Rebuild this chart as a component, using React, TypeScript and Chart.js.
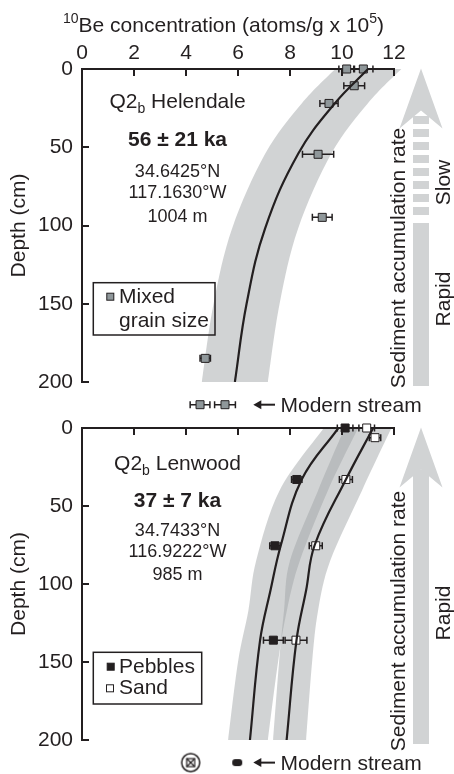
import React, { useEffect, useRef } from 'react';
import { Chart, registerables } from 'chart.js';

Chart.register(...registerables);

const FONT = '"Liberation Sans", Arial, Helvetica, sans-serif';
const INK = '#231f20';
const BAND = 'rgba(159,163,165,0.48)';
const ARROW_GRAY = '#d1d3d4';
const MIXED_FILL = '#8f979a';

// ---------------- data ----------------
const concTicks = [0, 2, 4, 6, 8, 10, 12];
const depthTicks = [0, 50, 100, 150, 200];
const streamDepth = 214.5;

// Q2b Helendale (top)
const helDepth = [0, 0, 10.7, 22, 54.5, 94.8, 184.9];
const helConc = [10.18, 10.82, 10.47, 9.5, 9.08, 9.24, 4.74];
const helErr = [0.3, 0.37, 0.4, 0.35, 0.6, 0.38, 0.2];
const helStreamConc = [4.54, 5.5];
const helStreamErr = [0.38, 0.4];
const helModelDepth = [0, 22, 54, 102, 150, 200];
const helModelConc = [11.0, 9.72, 8.32, 7.04, 6.33, 5.88];
const helBandDepth = [0, 22, 54, 102, 150, 200];
const helBandLow = [9.74, 8.45, 7.05, 5.77, 5.06, 4.61];
const helBandHigh = [12.28, 10.99, 9.59, 8.31, 7.6, 7.15];

// Q2b Lenwood (bottom)
const pebDepth = [0, 33, 75.5, 136];
const pebConc = [10.12, 8.26, 7.42, 7.36];
const pebErr = [0.3, 0.2, 0.2, 0.38];
const sandDepth = [0, 6.2, 33, 75.5, 136];
const sandConc = [10.95, 11.27, 10.15, 8.99, 8.23];
const sandErr = [0.3, 0.22, 0.25, 0.25, 0.42];
const pebStreamConc = [5.97];
const sandStreamConc = [4.18];
const lenModelDepth = [0, 33, 75, 104, 136, 200];
const pebModelConc = [9.86, 8.45, 7.65, 7.25, 6.85, 6.46];
const sandModelConc = [11.2, 10.15, 8.95, 8.62, 8.25, 7.87];
const lenBandDepth = [0, 40, 85, 117, 150, 200];
const pebBandLow = [9.3, 7.6, 6.7, 6.4, 6.0, 5.62];
const pebBandHigh = [10.62, 9.46, 8.38, 7.88, 7.54, 7.15];
const sandBandLow = [10.1, 9.08, 8.0, 7.77, 7.58, 7.35];
const sandBandHigh = [11.9, 10.77, 9.55, 9.08, 8.85, 8.62];

// ---------------- helpers ----------------
type Pt = [number, number];
const BIG_AREA = { left: -10000, top: -10000, right: 10000, bottom: 10000 };

function smoothTo(ctx: CanvasRenderingContext2D, pts: Pt[], move: boolean) {
  if (move) ctx.moveTo(pts[0][0], pts[0][1]);
  else ctx.lineTo(pts[0][0], pts[0][1]);
  for (let i = 0; i < pts.length - 1; i++) {
    const p0 = pts[i - 1] || pts[i];
    const p1 = pts[i];
    const p2 = pts[i + 1];
    const p3 = pts[i + 2] || p2;
    ctx.bezierCurveTo(
      p1[0] + (p2[0] - p0[0]) / 6, p1[1] + (p2[1] - p0[1]) / 6,
      p2[0] - (p3[0] - p1[0]) / 6, p2[1] - (p3[1] - p1[1]) / 6,
      p2[0], p2[1]
    );
  }
}

function drawBand(chart: any, depth: number[], low: number[], high: number[]) {
  const { ctx, scales } = chart;
  const x = scales.x, y = scales.y;
  const left: Pt[] = depth.map((d, i) => [x.getPixelForValue(low[i]), y.getPixelForValue(d)]);
  const right: Pt[] = depth.map((d, i) => [x.getPixelForValue(high[i]), y.getPixelForValue(d)] as Pt).reverse();
  ctx.save();
  ctx.fillStyle = BAND;
  ctx.beginPath();
  smoothTo(ctx, left, true);
  smoothTo(ctx, right, false);
  ctx.closePath();
  ctx.fill();
  ctx.restore();
}

function drawErrBars(chart: any, conc: number[], depth: number[], err: number[]) {
  const { ctx, scales } = chart;
  const x = scales.x, y = scales.y;
  ctx.save();
  ctx.strokeStyle = INK;
  ctx.lineWidth = 1.5;
  ctx.beginPath();
  conc.forEach((v, i) => {
    const py = y.getPixelForValue(depth[i]);
    const x1 = x.getPixelForValue(v - err[i]);
    const x2 = x.getPixelForValue(v + err[i]);
    ctx.moveTo(x1, py); ctx.lineTo(x2, py);
    ctx.moveTo(x1, py - 3.5); ctx.lineTo(x1, py + 3.5);
    ctx.moveTo(x2, py - 3.5); ctx.lineTo(x2, py + 3.5);
  });
  ctx.stroke();
  ctx.restore();
}

// draw points of datasets that lie below the plotted depth range (modern stream)
function drawOutsidePoints(chart: any, indices: number[]) {
  indices.forEach((i) => {
    const meta = chart.getDatasetMeta(i);
    meta.data.forEach((el: any) => el.draw(chart.ctx, BIG_AREA));
  });
}

type Part = { t: string; size: number; dy?: number; bold?: boolean };

function drawRich(ctx: CanvasRenderingContext2D, parts: Part[], x: number, y: number, align: 'left' | 'center') {
  ctx.save();
  ctx.fillStyle = INK;
  ctx.textBaseline = 'alphabetic';
  ctx.textAlign = 'left';
  const fontOf = (p: Part) => `${p.bold ? 'bold ' : ''}${p.size}px ${FONT}`;
  const widths = parts.map((p) => { ctx.font = fontOf(p); return ctx.measureText(p.t).width; });
  const total = widths.reduce((a, b) => a + b, 0);
  let cx = align === 'center' ? x - total / 2 : x;
  parts.forEach((p, i) => {
    ctx.font = fontOf(p);
    ctx.fillText(p.t, cx, y + (p.dy || 0));
    cx += widths[i];
  });
  ctx.restore();
}

function drawVText(ctx: CanvasRenderingContext2D, text: string, x: number, y: number, size: number) {
  ctx.save();
  ctx.translate(x, y);
  ctx.rotate(-Math.PI / 2);
  ctx.font = `${size}px ${FONT}`;
  ctx.textAlign = 'center';
  ctx.textBaseline = 'alphabetic';
  ctx.fillStyle = INK;
  ctx.fillText(text, 0, 0);
  ctx.restore();
}

function drawBigArrow(ctx: CanvasRenderingContext2D, a: any, dashed: boolean) {
  const cx = a.right + 27;
  const tip = a.top - 0.5;
  ctx.save();
  ctx.fillStyle = ARROW_GRAY;
  ctx.beginPath();
  ctx.moveTo(cx, tip);
  ctx.lineTo(cx + 21.5, tip + 60);
  ctx.lineTo(cx, tip + 42);
  ctx.lineTo(cx - 21.5, tip + 60);
  ctx.closePath();
  ctx.fill();
  const bottom = a.bottom + 4;
  if (dashed) {
    let yy = a.top + 47;
    while (yy < a.top + 150) {
      ctx.fillRect(cx - 8, yy, 16, 8);
      yy += 13;
    }
    ctx.fillRect(cx - 8, a.top + 154, 16, bottom - (a.top + 154));
  } else {
    ctx.fillRect(cx - 8, tip + 42, 16, bottom - (tip + 42));
  }
  ctx.restore();
}

function drawStreamLabel(ctx: CanvasRenderingContext2D, a: any, py: number) {
  const x0 = a.left + 171.3;
  const x1 = a.left + 193;
  ctx.save();
  ctx.strokeStyle = INK;
  ctx.fillStyle = INK;
  ctx.lineWidth = 2;
  ctx.beginPath();
  ctx.moveTo(x1, py);
  ctx.lineTo(x0 + 5, py);
  ctx.stroke();
  ctx.beginPath();
  ctx.moveTo(x0, py);
  ctx.lineTo(x0 + 8, py - 4.5);
  ctx.lineTo(x0 + 8, py + 4.5);
  ctx.closePath();
  ctx.fill();
  ctx.font = `21px ${FONT}`;
  ctx.textAlign = 'left';
  ctx.textBaseline = 'alphabetic';
  ctx.fillText('Modern stream', a.left + 198.5, py + 7.5);
  ctx.restore();
}

function drawSquare(ctx: CanvasRenderingContext2D, cx: number, cy: number, s: number, fill: string) {
  ctx.save();
  ctx.fillStyle = fill;
  ctx.strokeStyle = INK;
  ctx.lineWidth = 1;
  ctx.fillRect(cx - s / 2, cy - s / 2, s, s);
  ctx.strokeRect(cx - s / 2, cy - s / 2, s, s);
  ctx.restore();
}

function drawLegendBox(ctx: CanvasRenderingContext2D, x: number, y: number, w: number, h: number) {
  ctx.save();
  ctx.strokeStyle = INK;
  ctx.lineWidth = 1.5;
  ctx.strokeRect(x, y, w, h);
  ctx.restore();
}

function plainText(ctx: CanvasRenderingContext2D, t: string, x: number, y: number, size: number) {
  ctx.save();
  ctx.fillStyle = INK;
  ctx.font = `${size}px ${FONT}`;
  ctx.textAlign = 'left';
  ctx.textBaseline = 'alphabetic';
  ctx.fillText(t, x, y);
  ctx.restore();
}

function axisOptions(xHeight: number, showXLabels: boolean) {
  const tickFont = { family: FONT, size: 21 };
  const grid = { drawOnChartArea: false, drawTicks: true, tickLength: -7, color: INK, lineWidth: 2 };
  const border = { display: true, color: INK, width: 2 };
  return {
    x: {
      type: 'linear',
      position: 'top',
      min: 0,
      max: 12,
      afterBuildTicks: (s: any) => { s.ticks = concTicks.map((v) => ({ value: v })); },
      ticks: { display: showXLabels, padding: 10, font: tickFont, color: INK, maxRotation: 0, autoSkip: false },
      grid,
      border,
      afterFit: (s: any) => { s.height = xHeight; },
    },
    y: {
      type: 'linear',
      position: 'left',
      min: 0,
      max: 200,
      reverse: true,
      afterBuildTicks: (s: any) => { s.ticks = depthTicks.map((v) => ({ value: v })); },
      ticks: { padding: 16, font: tickFont, color: INK, autoSkip: false },
      grid,
      border,
      title: { display: true, text: 'Depth (cm)', font: { family: FONT, size: 21 }, color: INK, padding: { top: 7, bottom: 0 } },
      afterFit: (s: any) => { s.width = 82; },
    },
  };
}

const toXY = (xs: number[], ys: number[]) => xs.map((v, i) => ({ x: v, y: ys[i] }));

const lineDs = (data: any[]) => ({
  type: 'scatter',
  data,
  showLine: true,
  borderColor: INK,
  borderWidth: 2.2,
  pointRadius: 0,
  tension: 0.4,
  fill: false,
});

const pointDs = (data: any[], fill: string) => ({
  type: 'scatter',
  data,
  showLine: false,
  pointStyle: 'rect',
  pointRadius: 5.66,
  backgroundColor: fill,
  borderColor: INK,
  borderWidth: 1,
  clip: false,
});

function makePill() {
  const c = document.createElement('canvas');
  c.width = 12; c.height = 9;
  const g = c.getContext('2d')!;
  g.fillStyle = INK;
  g.beginPath();
  (g as any).roundRect(1, 1, 10, 7, 3);
  g.fill();
  return c;
}

function makeCircled() {
  const c = document.createElement('canvas');
  c.width = 22; c.height = 22;
  const g = c.getContext('2d')!;
  g.strokeStyle = INK;
  g.lineWidth = 1.5;
  g.beginPath();
  g.arc(11, 11, 9, 0, Math.PI * 2);
  g.stroke();
  g.lineWidth = 1.2;
  g.strokeRect(7, 7, 8, 8);
  g.beginPath();
  g.moveTo(7, 7); g.lineTo(15, 15);
  g.moveTo(15, 7); g.lineTo(7, 15);
  g.stroke();
  return c;
}

const topPlugin = {
  id: 'helendalePanel',
  beforeDraw(chart: any) {
    drawBand(chart, helBandDepth, helBandLow, helBandHigh);
  },
  beforeDatasetsDraw(chart: any) {
    drawErrBars(chart, helConc, helDepth, helErr);
    drawErrBars(chart, helStreamConc, helStreamConc.map(() => streamDepth), helStreamErr);
  },
  afterDatasetsDraw(chart: any) {
    drawOutsidePoints(chart, [2]);
  },
  afterDraw(chart: any) {
    const { ctx, chartArea: a, scales } = chart;
    drawRich(ctx, [
      { t: '10', size: 14, dy: -8.2 },
      { t: 'Be concentration (atoms/g x 10', size: 21 },
      { t: '5', size: 14, dy: -8.2 },
      { t: ')', size: 21 },
    ], a.left - 19, a.top - 37.5, 'left');
    const cx = a.left + 95.5;
    drawRich(ctx, [{ t: 'Q2', size: 21 }, { t: 'b', size: 14, dy: 4.7 }, { t: ' Helendale', size: 21 }], cx, a.top + 39.3, 'center');
    drawRich(ctx, [{ t: '56 ± 21 ka', size: 21, bold: true }], cx, a.top + 76.7, 'center');
    drawRich(ctx, [{ t: '34.6425°N', size: 18 }], cx, a.top + 107.5, 'center');
    drawRich(ctx, [{ t: '117.1630°W', size: 18 }], cx, a.top + 129.3, 'center');
    drawRich(ctx, [{ t: '1004 m', size: 18 }], cx, a.top + 152.7, 'center');

    const bx = a.left + 11.3, by = a.top + 213.7;
    drawLegendBox(ctx, bx, by, 121.7, 52.3);
    drawSquare(ctx, bx + 17, by + 14, 7, MIXED_FILL);
    plainText(ctx, 'Mixed', bx + 25.7, by + 20.6, 21);
    plainText(ctx, 'grain size', bx + 25.7, by + 44, 21);

    drawBigArrow(ctx, a, true);
    drawVText(ctx, 'Sediment accumulation rate', a.right + 11, a.top + 189, 21);
    drawVText(ctx, 'Slow', a.right + 56, a.top + 113.5, 21);
    drawVText(ctx, 'Rapid', a.right + 56, a.top + 230, 21);

    drawStreamLabel(ctx, a, scales.y.getPixelForValue(streamDepth));
  },
};

const bottomPlugin = {
  id: 'lenwoodPanel',
  beforeDraw(chart: any) {
    drawBand(chart, lenBandDepth, pebBandLow, pebBandHigh);
    drawBand(chart, lenBandDepth, sandBandLow, sandBandHigh);
  },
  beforeDatasetsDraw(chart: any) {
    drawErrBars(chart, pebConc, pebDepth, pebErr);
    drawErrBars(chart, sandConc, sandDepth, sandErr);
  },
  afterDatasetsDraw(chart: any) {
    drawOutsidePoints(chart, [4, 5]);
  },
  afterDraw(chart: any) {
    const { ctx, chartArea: a, scales } = chart;
    const cx = a.left + 95.5;
    drawRich(ctx, [{ t: 'Q2', size: 21 }, { t: 'b', size: 14, dy: 4.7 }, { t: ' Lenwood', size: 21 }], cx, a.top + 42, 'center');
    drawRich(ctx, [{ t: '37 ± 7 ka', size: 21, bold: true }], cx, a.top + 78.7, 'center');
    drawRich(ctx, [{ t: '34.7433°N', size: 18 }], cx, a.top + 107.7, 'center');
    drawRich(ctx, [{ t: '116.9222°W', size: 18 }], cx, a.top + 128.7, 'center');
    drawRich(ctx, [{ t: '985 m', size: 18 }], cx, a.top + 152, 'center');

    const bx = a.left + 11.3, by = a.top + 224.3;
    drawLegendBox(ctx, bx, by, 108.4, 51.7);
    drawSquare(ctx, bx + 17.4, by + 14.4, 7, INK);
    plainText(ctx, 'Pebbles', bx + 25.7, by + 21, 21);
    drawSquare(ctx, bx + 16.7, by + 36, 7, '#ffffff');
    plainText(ctx, 'Sand', bx + 25.7, by + 41.7, 21);

    drawBigArrow(ctx, a, false);
    drawVText(ctx, 'Sediment accumulation rate', a.right + 11, a.top + 193, 21);
    drawVText(ctx, 'Rapid', a.right + 56, a.top + 185, 21);

    drawStreamLabel(ctx, a, scales.y.getPixelForValue(streamDepth));
  },
};

export default function App() {
  const topRef = useRef<HTMLCanvasElement | null>(null);
  const botRef = useRef<HTMLCanvasElement | null>(null);

  useEffect(() => {
    Chart.defaults.font.family = FONT;
    Chart.defaults.color = INK;
    const common = {
      responsive: false,
      animation: false,
      devicePixelRatio: 1,
      events: [],
      plugins: { legend: { display: false }, tooltip: { enabled: false }, title: { display: false } },
    };

    const top = new Chart(topRef.current as HTMLCanvasElement, {
      type: 'scatter',
      data: {
        datasets: [
          lineDs(toXY(helModelConc, helModelDepth)),
          pointDs(toXY(helConc, helDepth), MIXED_FILL),
          pointDs(toXY(helStreamConc, helStreamConc.map(() => streamDepth)), MIXED_FILL),
        ] as any,
      },
      options: {
        ...common,
        layout: { padding: { left: 0, right: 60, top: 0, bottom: 392 } },
        scales: axisOptions(69, true) as any,
      } as any,
      plugins: [topPlugin as any],
    });

    const pill = makePill();
    const circled = makeCircled();
    const bot = new Chart(botRef.current as HTMLCanvasElement, {
      type: 'scatter',
      data: {
        datasets: [
          lineDs(toXY(pebModelConc, lenModelDepth)),
          lineDs(toXY(sandModelConc, lenModelDepth)),
          pointDs(toXY(pebConc, pebDepth), INK),
          pointDs(toXY(sandConc, sandDepth), '#ffffff'),
          {
            type: 'scatter',
            data: toXY(pebStreamConc, pebStreamConc.map(() => streamDepth)),
            pointStyle: pill,
            pointRadius: 5,
            clip: false,
          },
          {
            type: 'scatter',
            data: toXY(sandStreamConc, sandStreamConc.map(() => streamDepth)),
            pointStyle: circled,
            pointRadius: 9,
            clip: false,
          },
        ] as any,
      },
      options: {
        ...common,
        layout: { padding: { left: 0, right: 60, top: 0, bottom: 34 } },
        scales: axisOptions(428, false) as any,
      } as any,
      plugins: [bottomPlugin as any],
    });

    return () => {
      top.destroy();
      bot.destroy();
    };
  }, []);

  const cs: React.CSSProperties = { position: 'absolute', left: 0, top: 0, width: 454, height: 774 };
  return (
    <div style={{ position: 'absolute', left: 0, top: 0, width: 454, height: 774, background: '#ffffff' }}>
      <canvas ref={topRef} width={454} height={774} style={cs} />
      <canvas ref={botRef} width={454} height={774} style={cs} />
    </div>
  );
}
